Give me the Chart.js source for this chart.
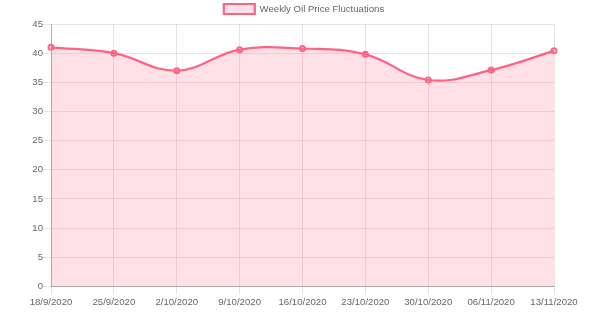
<!DOCTYPE html>
<html>
<head>
<meta charset="utf-8">
<script src="https://cdn.jsdelivr.net/npm/chart.js@4/dist/chart.umd.min.js"></script>
<style>
  html, body { margin: 0; padding: 0; background: #fff; }
  #wrap { width: 600px; height: 324px; position: relative; }
</style>
</head>
<body>
<div id="wrap"><canvas id="c" width="600" height="324"></canvas></div>
<script>
const dates = ["18/9/2020", "25/9/2020", "2/10/2020", "9/10/2020", "16/10/2020", "23/10/2020", "30/10/2020", "06/11/2020", "13/11/2020"];
const prices = [41.0, 40.0, 37.0, 40.6, 40.8, 39.8, 35.4, 37.1, 40.4];
const seriesLabel = "Weekly Oil Price Fluctuations";
const yTicks = { min: 0, max: 45, step: 5 };

Chart.defaults.font.family = "'Liberation Sans', Arial, Helvetica, sans-serif";
Chart.defaults.font.size = 9.6;
Chart.defaults.color = "#666";

const legendShift = {
  id: "legendShift",
  afterLayout(chart) {
    const lg = chart.legend;
    if (lg) { lg.left = 54; lg.right = 554; }
  }
};

new Chart(document.getElementById("c"), {
  type: "line",
  data: {
    labels: dates,
    datasets: [{
      label: seriesLabel,
      data: prices,
      fill: true,
      tension: 0.4,
      backgroundColor: "rgba(255,99,132,0.2)",
      borderColor: "rgb(255,99,132)",
      borderWidth: 2.2,
      pointRadius: 2.6,
      pointBorderWidth: 1.8,
      pointBackgroundColor: "rgba(255,99,132,0.2)",
      pointBorderColor: "rgb(255,99,132)"
    }]
  },
  plugins: [legendShift],
  options: {
    responsive: false,
    animation: false,
    layout: { padding: { left: 0, right: 46, top: 0, bottom: 14 } },
    plugins: {
      legend: {
        labels: {
          boxWidth: 31,
          boxHeight: 10,
          padding: 4,
          font: { size: 9.6 }
        }
      },
      tooltip: { enabled: false }
    },
    scales: {
      x: {
        grid: { color: "rgba(0,0,0,0.1)", tickLength: 8, offset: false },
        border: { color: "rgba(0,0,0,0.25)" },
        ticks: { padding: 2, maxRotation: 0, autoSkip: false }
      },
      y: {
        min: yTicks.min,
        max: yTicks.max,
        grid: { color: "rgba(0,0,0,0.1)", tickLength: 8 },
        border: { color: "rgba(0,0,0,0.25)" },
        ticks: { stepSize: yTicks.step, padding: 0 },
        afterFit: (s) => { s.width = 51; }
      }
    }
  }
});
</script>
</body>
</html>
